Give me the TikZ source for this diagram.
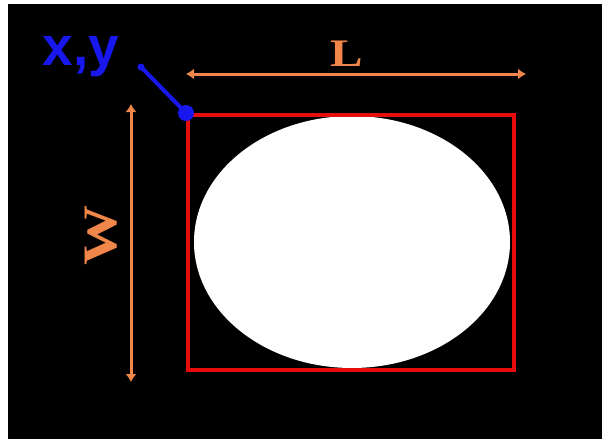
\documentclass[tikz,border=0pt]{standalone}
\usepackage{fontspec}
\setsansfont{Liberation Sans}
\newfontfamily\dimfont[FakeStretch=1.25]{Liberation Serif}
\usetikzlibrary{arrows.meta,positioning,shapes.geometric}
\definecolor{boxRed}{RGB}{232,12,12}
\definecolor{dimOrange}{RGB}{240,134,74}
\definecolor{cornerBlue}{RGB}{24,24,238}

\begin{document}
\begin{tikzpicture}[x=1pt, y=-1pt,
  dim/.style={{Latex[length=8pt,width=11pt]}-{Latex[length=8pt,width=11pt]}, line width=3pt, dimOrange},
  dimlabel/.style={text=dimOrange, inner sep=0pt, font=\dimfont\bfseries\fontsize{39}{39}\selectfont},
  dot/.style={circle, fill=cornerBlue, inner sep=0pt}
]
  \useasboundingbox (0,0) rectangle (602,439);
  \fill[black] (8,4) rectangle (602,439);

  % object and its bounding box
  \node[ellipse, fill=white, minimum width=316pt, minimum height=252pt, inner sep=0pt] (blob) at (352,242) {};
  \node[draw=boxRed, line width=4pt, minimum width=326pt, minimum height=255pt, inner sep=0pt] (box) at (351,242.5) {};

  % corner point
  \node[dot, minimum size=16pt] (corner) at (box.north west) {};
  \node[dot, minimum size=7pt] (tip) at (141,67) {};
  \draw[cornerBlue, line width=4pt] (tip.center) -- (corner.center);
  \node[text=cornerBlue, anchor=base, inner sep=0pt, font=\sffamily\bfseries\fontsize{55}{55}\selectfont] (xy) at (81,65) {x,y};

  % dimensions
  \coordinate (lstart) at (186,74);
  \coordinate (lend) at (526,74);
  \draw[dim] (lstart) -- (lend);
  \node[dimlabel, anchor=base] (lname) at (347,66) {L};

  \coordinate (wstart) at (131,104);
  \coordinate (wend) at (131,382);
  \draw[dim] (wstart) -- (wend);
  \node[dimlabel, rotate=90, font=\dimfont\bfseries\fontsize{48}{48}\selectfont] (wname) at (101,235) {W};
\end{tikzpicture}
\end{document}
